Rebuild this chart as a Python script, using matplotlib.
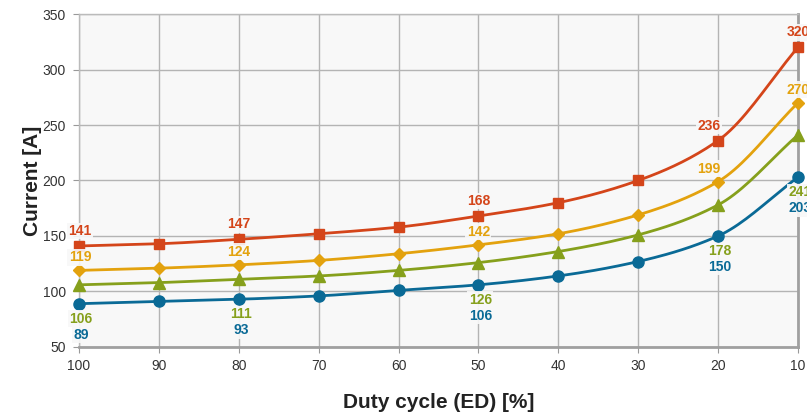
import numpy as np
import matplotlib
matplotlib.use("Agg")
import matplotlib.pyplot as plt

plt.rcParams['font.family'] = ['Liberation Sans', 'DejaVu Sans']

duty = [100, 90, 80, 70, 60, 50, 40, 30, 20, 10]
red_vals = [141, 143, 147, 152, 158, 168, 180, 200, 236, 320]
orange_vals = [119, 121, 124, 128, 134, 142, 152, 169, 199, 270]
green_vals = [106, 108, 111, 114, 119, 126, 136, 151, 178, 241]
blue_vals = [89, 91, 93, 96, 101, 106, 114, 127, 150, 203]
label_idx = [0, 2, 5, 8, 9]

colors = {'red': '#d4451a', 'orange': '#e3a20e', 'green': '#86a01c', 'blue': '#0a6a96'}


def smooth(x, y, n=20):
    """Monotone cubic Hermite (Fritsch-Carlson) curve through the points."""
    x = np.asarray(x, float)
    y = np.asarray(y, float)
    h = np.diff(x)
    d = np.diff(y) / h
    m = np.zeros_like(y)
    m[0], m[-1] = d[0], d[-1]
    for i in range(1, len(y) - 1):
        if d[i - 1] * d[i] <= 0:
            m[i] = 0
        else:
            w1 = 2 * h[i] + h[i - 1]
            w2 = h[i] + 2 * h[i - 1]
            m[i] = (w1 + w2) / (w1 / d[i - 1] + w2 / d[i])
    xs, ys = [], []
    for i in range(len(x) - 1):
        t = np.linspace(0, 1, n, endpoint=False)
        h00 = 2 * t**3 - 3 * t**2 + 1
        h10 = t**3 - 2 * t**2 + t
        h01 = -2 * t**3 + 3 * t**2
        h11 = t**3 - t**2
        xs.append(x[i] + t * h[i])
        ys.append(h00 * y[i] + h10 * h[i] * m[i] + h01 * y[i + 1] + h11 * h[i] * m[i + 1])
    xs.append([x[-1]])
    ys.append([y[-1]])
    return np.concatenate(xs), np.concatenate(ys)


fig = plt.figure(figsize=(8.07, 4.17), dpi=100)
ax = fig.add_axes([0.0979, 0.1679, 0.8909, 0.7985])
ax.set_facecolor('#f8f8f8')

xpos = np.arange(len(duty))
series = [
    (red_vals, colors['red'], 's', 7),
    (orange_vals, colors['orange'], 'D', 6),
    (green_vals, colors['green'], '^', 8),
    (blue_vals, colors['blue'], 'o', 8),
]
for vals, c, mk, ms in series:
    sx, sy = smooth(xpos, vals)
    ax.plot(sx, sy, color=c, lw=2.0, zorder=3, solid_capstyle='round')
    ax.plot(xpos, vals, linestyle='none', marker=mk, ms=ms, color=c, zorder=4,
            clip_on=False)

bbox = dict(boxstyle='square,pad=0.1', fc='#f8f8f8', ec='none', alpha=0.9)
fs = 10
for i in label_idx:
    dx = -9 if i == 8 else (1 if i == 0 else 0)
    ax.annotate(str(red_vals[i]), (xpos[i], red_vals[i]), xytext=(dx, 15),
                textcoords='offset pixels', ha='center', va='center',
                color=colors['red'], fontsize=fs, fontweight='bold', bbox=bbox,
                zorder=5, annotation_clip=False)
    ax.annotate(str(orange_vals[i]), (xpos[i], orange_vals[i]), xytext=(dx, 13),
                textcoords='offset pixels', ha='center', va='center',
                color=colors['orange'], fontsize=fs, fontweight='bold', bbox=bbox,
                zorder=5, annotation_clip=False)
    ax.annotate(str(green_vals[i]), (xpos[i], blue_vals[i]), xytext=(2, -15),
                textcoords='offset pixels', ha='center', va='center',
                color=colors['green'], fontsize=fs, fontweight='bold', bbox=bbox,
                zorder=5, annotation_clip=False)
    ax.annotate(str(blue_vals[i]), (xpos[i], blue_vals[i]), xytext=(2, -31),
                textcoords='offset pixels', ha='center', va='center',
                color=colors['blue'], fontsize=fs, fontweight='bold', bbox=bbox,
                zorder=5, annotation_clip=False)

ax.set_xlim(xpos[0], xpos[-1])
ax.set_ylim(50, 350)
ax.set_xticks(xpos)
ax.set_xticklabels([str(d) for d in duty])
ax.set_yticks(np.arange(50, 351, 50))
ax.grid(True, color='#b4b4b4', lw=1.0, zorder=0)
ax.set_axisbelow(True)
ax.tick_params(axis='both', labelsize=10, colors='#333333', length=4,
               color='#999999')
ax.tick_params(axis='y', pad=5.5)
ax.tick_params(axis='x', pad=5)
for s in ['top', 'left']:
    ax.spines[s].set_color('#bbbbbb')
    ax.spines[s].set_linewidth(1.0)
for s in ['bottom', 'right']:
    ax.spines[s].set_color('#a0a0a0')
    ax.spines[s].set_linewidth(2.0)

ax.set_xlabel('Duty cycle (ED) [%]', fontsize=15, fontweight='bold', color='#222222',
              labelpad=14)
ax.set_ylabel('Current [A]', fontsize=15, fontweight='bold', color='#222222',
              labelpad=0.5)

fig.savefig('out.png', dpi=100)
